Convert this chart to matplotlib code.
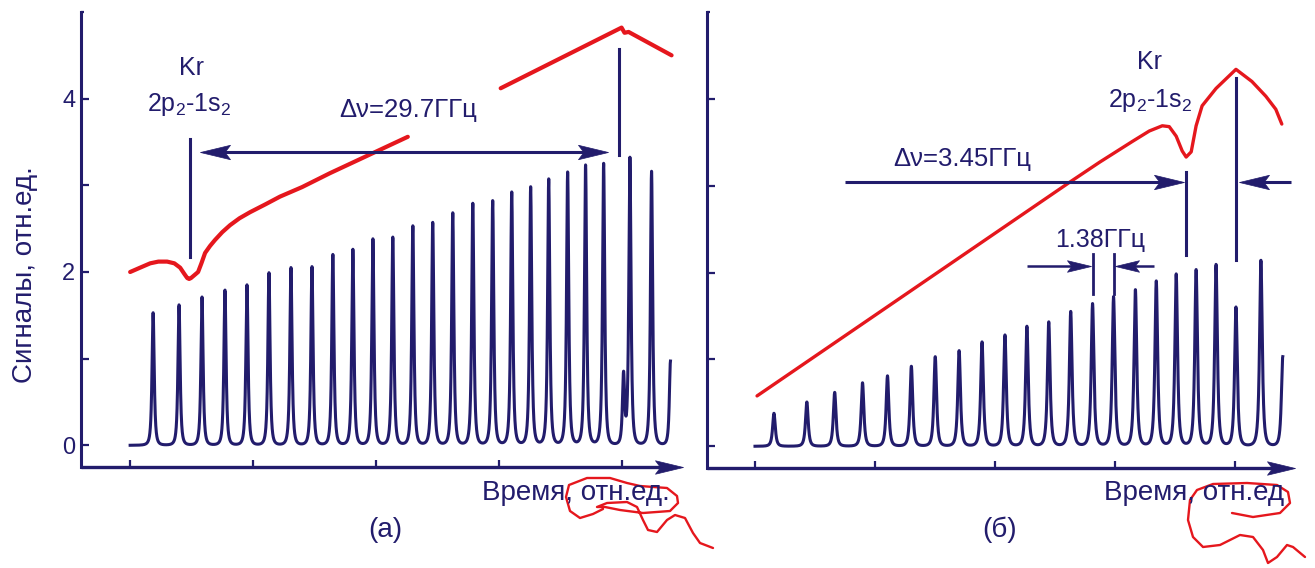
import numpy as np
import matplotlib
matplotlib.use('Agg')
import matplotlib.pyplot as plt
from matplotlib.path import Path
from matplotlib.lines import Line2D

plt.rcParams['font.family'] = ['Liberation Sans', 'DejaVu Sans']
plt.rcParams['mathtext.fontset'] = 'custom'
plt.rcParams['mathtext.rm'] = 'Liberation Sans'
plt.rcParams['mathtext.it'] = 'Liberation Sans:italic'

NAVY = '#221c6c'
RED = '#e5171d'

# ---------------- data: panel (a) ----------------
peaks_a_x = [0.187, 0.398, 0.585, 0.772, 0.951, 1.130, 1.309, 1.480, 1.650, 1.813,
             1.976, 2.138, 2.301, 2.463, 2.626, 2.789, 2.951, 3.106, 3.260, 3.407,
             3.561, 3.707, 3.854, 4.016, 4.068, 4.244, 4.398]
peaks_a_h = [1.53, 1.62, 1.71, 1.79, 1.85, 1.99, 2.05, 2.06, 2.20, 2.26,
             2.38, 2.40, 2.53, 2.57, 2.68, 2.79, 2.82, 2.92, 2.98, 3.07,
             3.15, 3.23, 3.25, 0.80, 3.31, 3.16, 0.97]
red_a_x = [0.0, 0.081, 0.163, 0.23, 0.301, 0.36, 0.407, 0.44, 0.465, 0.48, 0.495,
           0.52, 0.553, 0.58, 0.610, 0.65, 0.691, 0.75, 0.813, 0.89, 0.976, 1.10,
           1.220, 1.40, 1.626, 2.260, np.nan, 3.016, 4.0, 4.024, 4.057, 4.407]
red_a_y = [2.00, 2.05, 2.10, 2.12, 2.12, 2.10, 2.05, 1.98, 1.93, 1.92, 1.93,
           1.96, 2.00, 2.10, 2.22, 2.30, 2.37, 2.46, 2.54, 2.62, 2.69, 2.78,
           2.87, 2.98, 3.14, 3.56, np.nan, 4.12, 4.82, 4.76, 4.77, 4.50]

# ---------------- data: panel (б) ----------------
peaks_b_x = [0.158, 0.432, 0.664, 0.896, 1.104, 1.303, 1.502, 1.701, 1.892, 2.083,
             2.266, 2.448, 2.631, 2.813, 2.988, 3.170, 3.344, 3.510, 3.676, 3.842,
             4.008, 4.216, 4.398]
peaks_b_h = [0.38, 0.51, 0.62, 0.73, 0.81, 0.92, 1.03, 1.10, 1.20, 1.28,
             1.38, 1.43, 1.55, 1.64, 1.72, 1.80, 1.90, 1.98, 2.03, 2.09,
             1.60, 2.14, 1.03]
red_b_x = [0.017, 2.622, 2.871, 3.145, 3.286, 3.394, 3.452, 3.510, 3.560, 3.593,
           3.635, 3.676, 3.726, 3.842, 4.008, 4.141, 4.257, 4.340, 4.390]
red_b_y = [0.58, 3.04, 3.27, 3.51, 3.63, 3.69, 3.68, 3.57, 3.40, 3.33,
           3.39, 3.69, 3.92, 4.12, 4.34, 4.20, 4.03, 3.88, 3.71]

x_ticks = [0, 1, 2, 3, 4]
y_ticks = [0, 1, 2, 3, 4]
y_ticklabels_a = ['0', '', '2', '', '4']
x_label_a = 'Время, отн.ед.'
x_label_b = 'Время, отн.ед'
y_label = 'Сигналы, отн.ед.'

# hand-drawn red marks around the axis labels (figure pixels)
scr_a_px = [603, 593, 580, 570, 566, 569, 587, 610, 627, 640, 667, 677, 678, 670, 643,
            620, 605, 597, 607, 627, 637, 643, 648, 657, 667, 675, 685, 693, 700, 713]
scr_a_py = [509, 514, 518, 511, 497, 485, 478, 478, 483, 486, 488, 496, 503, 511, 513,
            510, 507, 507, 503, 502, 507, 520, 530, 532, 520, 515, 518, 533, 543, 548]
scr_b_px = [1232, 1253, 1280, 1290, 1288, 1277, 1247, 1213, 1197, 1190, 1188, 1193, 1203,
            1220, 1240, 1253, 1263, 1268, 1277, 1287, 1293, 1305]
scr_b_py = [513, 517, 513, 503, 492, 485, 483, 484, 490, 500, 520, 537, 547,
            545, 535, 537, 550, 563, 557, 545, 547, 557]

W, H = 1315, 568
fig = plt.figure(figsize=(W / 100, H / 100), dpi=100)

XMIN, XMAX = -0.4, 4.5
YMIN, YMAX = -0.25, 5.0


def axes_at(left_px, right_px, top_px, bottom_px):
    return fig.add_axes([left_px / W, 1 - bottom_px / H,
                         (right_px - left_px) / W, (bottom_px - top_px) / H])


ax_a = axes_at(81, 683, 12, 467)
ax_b = axes_at(707, 1295, 12, 468)

head_r = Path([(0, 0), (-1, 0.24), (-0.82, 0), (-1, -0.24), (0, 0)],
              [Path.MOVETO, Path.LINETO, Path.LINETO, Path.LINETO, Path.CLOSEPOLY])
head_l = Path([(0, 0), (1, 0.24), (0.82, 0), (1, -0.24), (0, 0)],
              [Path.MOVETO, Path.LINETO, Path.LINETO, Path.LINETO, Path.CLOSEPOLY])


def harrow(ax, x_from, x_to, y, L_px, ppu, lw=2.2, both=False):
    d = L_px / ppu * 0.6
    s = 1 if x_to > x_from else -1
    x0 = x_from + (s * d if both else 0)
    ax.plot([x0, x_to - s * d], [y, y], color=NAVY, lw=lw, solid_capstyle='butt',
            clip_on=False)
    ms = 2 * L_px / 1.389
    ax.plot([x_to], [y], marker=head_r if s > 0 else head_l, ms=ms, color=NAVY,
            mec=NAVY, mew=0.5, clip_on=False)
    if both:
        ax.plot([x_from], [y], marker=head_l if s > 0 else head_r, ms=ms, color=NAVY,
                mec=NAVY, mew=0.5, clip_on=False)


def trace(px, ph, g):
    xs = np.linspace(0, px[-1], 9000)
    ys = np.zeros_like(xs)
    for c, h in zip(px, ph):
        ys += h / (1 + ((xs - c) / g) ** 2) ** 1.5
    return xs, ys


def style(ax, ppu):
    ax.set_xlim(XMIN, XMAX)
    ax.set_ylim(YMIN, YMAX)
    for s in ['top', 'right', 'bottom']:
        ax.spines[s].set_visible(False)
    ax.spines['left'].set_color(NAVY)
    ax.spines['left'].set_linewidth(2.2)
    ax.set_xticks(x_ticks)
    ax.set_xticklabels([])
    ax.set_yticks(y_ticks)
    ax.set_yticks([5], minor=True)
    ax.tick_params(axis='y', which='major', direction='in', length=6, width=1.6,
                   color=NAVY, labelcolor=NAVY, labelsize=17, pad=4)
    ax.tick_params(axis='y', which='minor', direction='in', length=2.5, width=1.6,
                   color=NAVY)
    ax.tick_params(axis='x', which='major', direction='in', length=5, width=1.6,
                   color=NAVY)
    ax.patch.set_alpha(0)
    harrow(ax, XMIN, XMAX, YMIN, 28, ppu, lw=2.4)


# ---------------- panel (a) ----------------
style(ax_a, 123)
ax_a.set_yticklabels(y_ticklabels_a)
xs, ys = trace(peaks_a_x, peaks_a_h, 0.0135)
ax_a.plot(xs, ys, color=NAVY, lw=2.2, solid_joinstyle='round')
ax_a.plot(red_a_x, red_a_y, color=RED, lw=3.0, solid_capstyle='round',
          solid_joinstyle='round')
ax_a.plot([0.488, 0.488], [2.17, 3.53], color=NAVY, lw=2.2)
ax_a.plot([3.978, 3.978], [3.35, 4.57], color=NAVY, lw=2.2)
harrow(ax_a, 0.569, 3.886, 3.39, 30, 123, both=True)
ax_a.text(0.50, 4.35, 'Kr', ha='center', va='center', fontsize=18, color=NAVY)
ax_a.text(0.48, 3.93, r'2p$_{\mathregular{2}}$-1s$_{\mathregular{2}}$', ha='center',
          va='center', fontsize=18, color=NAVY)
ax_a.text(2.26, 3.87, 'Δν=29.7ГГц', ha='center', va='center', fontsize=18.5, color=NAVY)

# ---------------- panel (б) ----------------
style(ax_b, 120.5)
ax_b.set_yticklabels([])
xs, ys = trace(peaks_b_x, peaks_b_h, 0.017)
ax_b.plot(xs, ys, color=NAVY, lw=2.2, solid_joinstyle='round')
ax_b.plot(red_b_x, red_b_y, color=RED, lw=2.4, solid_capstyle='round',
          solid_joinstyle='round')
ax_b.plot([3.593, 3.593], [2.20, 3.16], color=NAVY, lw=2.2)
ax_b.plot([4.008, 4.008], [2.15, 4.24], color=NAVY, lw=2.2)
ax_b.plot([2.813, 2.813], [1.75, 2.21], color=NAVY, lw=2.0)
ax_b.plot([2.988, 2.988], [1.75, 2.21], color=NAVY, lw=2.0)
harrow(ax_b, 0.747, 3.577, 3.04, 30, 120.5)
harrow(ax_b, 4.465, 4.033, 3.04, 30, 120.5)
harrow(ax_b, 2.266, 2.797, 2.07, 24, 120.5, lw=1.8)
harrow(ax_b, 3.328, 2.996, 2.07, 24, 120.5, lw=1.8)
ax_b.text(3.286, 4.42, 'Kr', ha='center', va='center', fontsize=18, color=NAVY)
ax_b.text(3.295, 3.98, r'2p$_{\mathregular{2}}$-1s$_{\mathregular{2}}$', ha='center',
          va='center', fontsize=18, color=NAVY)
ax_b.text(1.73, 3.31, 'Δν=3.45ГГц', ha='center', va='center', fontsize=18.5, color=NAVY)
ax_b.text(2.88, 2.38, '1.38ГГц', ha='center', va='center', fontsize=18, color=NAVY)

# ---------------- labels ----------------
fig.text(25 / W, 1 - 275 / H, y_label, rotation=90, ha='center', va='center',
         fontsize=20, color=NAVY)
fig.text(576 / W, 1 - 493 / H, x_label_a, ha='center', va='center', fontsize=20,
         color=NAVY)
fig.text(1194 / W, 1 - 493 / H, x_label_b, ha='center', va='center', fontsize=20,
         color=NAVY)
fig.text(385 / W, 1 - 530 / H, '(a)', ha='center', va='center', fontsize=20, color=NAVY)
fig.text(1000 / W, 1 - 530 / H, '(б)', ha='center', va='center', fontsize=20, color=NAVY)

# red hand marks
for px, py in [(scr_a_px, scr_a_py), (scr_b_px, scr_b_py)]:
    fig.add_artist(Line2D(np.array(px) / W, 1 - np.array(py) / H,
                          transform=fig.transFigure, color=RED, lw=1.7,
                          solid_joinstyle='round', solid_capstyle='round'))

fig.savefig('out.png', dpi=100)
